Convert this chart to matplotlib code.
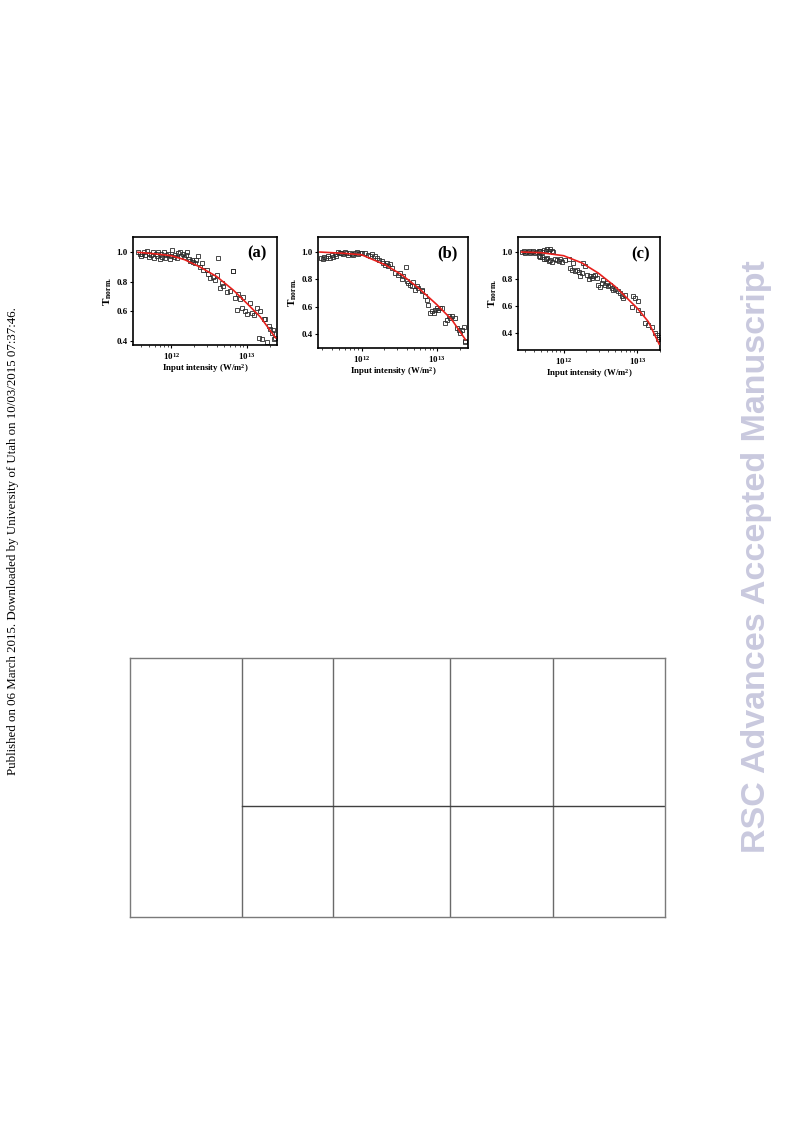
import matplotlib
matplotlib.use('Agg')
import matplotlib.pyplot as plt
import numpy as np

plt.rcParams['font.family'] = ['Liberation Serif', 'DejaVu Serif']
plt.rcParams['font.weight'] = 'bold'
plt.rcParams['mathtext.fontset'] = 'custom'
plt.rcParams['mathtext.rm'] = 'Liberation Serif:bold'
plt.rcParams['mathtext.bf'] = 'Liberation Serif:bold'
plt.rcParams['mathtext.it'] = 'Liberation Serif:bold'

# intensities in units of 1e12 W/m^2
a_x = [0.36, 0.38, 0.39, 0.41, 0.43, 0.45, 0.48, 0.50, 0.51, 0.54, 0.57, 0.59, 0.62, 0.64,
       0.67, 0.70, 0.73, 0.76, 0.79, 0.82, 0.86, 0.90, 0.95, 0.99, 1.03, 1.07, 1.12, 1.17,
       1.23, 1.29, 1.36, 1.43, 1.49, 1.55, 1.62, 1.69, 1.75, 1.85, 1.94, 2.05, 2.15, 2.27,
       2.39, 2.51, 2.64, 2.93, 3.08, 3.24, 3.59, 3.78, 3.98, 4.19, 4.41, 4.64, 4.89, 5.41,
       6.0, 6.5, 6.64, 6.99, 7.36, 7.74, 8.15, 8.58, 9.03, 9.5, 10.0, 10.9, 11.7, 12.3,
       13.6, 14.3, 15.1, 15.8, 16.7, 17.5, 18.5, 19.5, 20.5, 21.5, 22.2, 22.7, 23.9]
a_y = [1.005, 0.99, 0.975, 0.99, 1.0, 0.98, 1.01, 0.965, 0.99, 0.985, 1.0, 0.96, 0.99, 0.975,
       1.005, 0.955, 0.99, 0.97, 1.0, 0.96, 0.98, 0.99, 0.955, 0.975, 1.015, 0.97, 0.985, 0.96,
       0.995, 1.0, 0.975, 0.99, 0.965, 0.985, 1.0, 0.955, 0.94, 0.945, 0.935, 0.925, 0.95, 0.975,
       0.9, 0.925, 0.88, 0.88, 0.855, 0.825, 0.835, 0.815, 0.845, 0.96, 0.76, 0.79, 0.77, 0.73,
       0.735, 0.87, 0.87, 0.69, 0.61, 0.72, 0.68, 0.62, 0.70, 0.60, 0.58, 0.655, 0.585, 0.575,
       0.62, 0.42, 0.60, 0.415, 0.55, 0.55, 0.39, 0.50, 0.48, 0.455, 0.47, 0.41, 0.42]
a_fit_x = [0.36, 0.6, 1.0, 1.5, 2.4, 4.0, 6.6, 10.0, 15.0, 24.0]
a_fit_y = [1.0, 0.99, 0.977, 0.95, 0.90, 0.835, 0.744, 0.654, 0.563, 0.42]

b_x = [0.29, 0.31, 0.32, 0.34, 0.36, 0.38, 0.40, 0.42, 0.44, 0.46, 0.49, 0.51, 0.54, 0.57,
       0.60, 0.63, 0.66, 0.70, 0.74, 0.77, 0.81, 0.86, 0.90, 0.95, 1.0, 1.11, 1.23, 1.29,
       1.39, 1.51, 1.58, 1.70, 1.85, 1.94, 2.05, 2.15, 2.27, 2.39, 2.51, 2.78, 3.08, 3.24,
       3.41, 3.59, 3.86, 3.98, 4.19, 4.41, 4.64, 4.89, 5.14, 5.41, 5.70, 6.31, 6.44, 6.99,
       7.36, 7.74, 8.15, 8.58, 9.03, 9.5, 10.0, 10.5, 11.1, 11.7, 12.9, 13.6, 14.3, 15.1,
       15.8, 17.5, 18.5, 19.5, 20.5, 21.5, 22.7, 23.4, 23.9]
b_y = [0.96, 0.95, 0.965, 0.955, 0.97, 0.96, 0.975, 0.965, 0.985, 0.97, 1.0, 0.99, 0.995, 0.985,
       1.0, 0.99, 0.98, 0.995, 0.985, 0.975, 0.99, 1.0, 0.985, 0.995, 0.99, 0.99, 0.98, 0.973,
       0.983, 0.968, 0.956, 0.944, 0.932, 0.92, 0.907, 0.92, 0.895, 0.91, 0.883, 0.846, 0.834,
       0.85, 0.80, 0.822, 0.89, 0.785, 0.773, 0.761, 0.749, 0.78, 0.724, 0.749, 0.74, 0.712,
       0.724, 0.676, 0.651, 0.615, 0.553, 0.566, 0.554, 0.578, 0.59, 0.578, 0.59, 0.59, 0.48,
       0.505, 0.529, 0.517, 0.53, 0.52, 0.444, 0.432, 0.41, 0.432, 0.455, 0.345, 0.35]
b_fit_x = [0.28, 0.6, 1.0, 2.05, 3.41, 5.7, 10.0, 15.8, 23.9]
b_fit_y = [1.0, 0.99, 0.98, 0.907, 0.834, 0.737, 0.615, 0.505, 0.36]

c_x = [0.27, 0.29, 0.30, 0.32, 0.34, 0.35, 0.37, 0.39, 0.41, 0.44, 0.46, 0.48, 0.51, 0.54,
       0.57, 0.60, 0.63, 0.66, 0.70, 0.73, 0.46, 0.48, 0.51, 0.54, 0.57, 0.60, 0.63, 0.66,
       0.70, 0.77, 0.81, 0.86, 0.90, 0.95, 1.05, 1.17, 1.23, 1.30, 1.36, 1.44, 1.51, 1.60,
       1.68, 1.77, 1.86, 1.96, 2.07, 2.18, 2.29, 2.42, 2.54, 2.68, 2.82, 2.97, 3.13, 3.30,
       3.47, 3.66, 3.85, 4.06, 4.27, 4.50, 4.74, 4.99, 5.54, 5.83, 6.14, 6.47, 6.81, 8.38,
       8.83, 9.30, 10.1, 10.3, 11.5, 12.7, 14.1, 15.6, 17.3, 18.2, 19.2, 19.8]
c_y = [1.0, 1.005, 0.995, 1.0, 1.005, 0.995, 1.0, 1.005, 0.995, 1.0, 1.005, 1.01, 1.0, 1.015,
       1.005, 1.02, 1.01, 1.025, 1.005, 1.0, 0.97, 0.96, 0.965, 0.95, 0.945, 0.955, 0.935, 0.94,
       0.93, 0.945, 0.94, 0.935, 0.95, 0.93, 0.94, 0.945, 0.881, 0.869, 0.92, 0.857, 0.869, 0.85,
       0.82, 0.844, 0.92, 0.90, 0.832, 0.80, 0.82, 0.807, 0.82, 0.832, 0.807, 0.76, 0.74, 0.77,
       0.795, 0.758, 0.77, 0.746, 0.755, 0.733, 0.721, 0.73, 0.709, 0.70, 0.672, 0.659, 0.684,
       0.593, 0.672, 0.66, 0.635, 0.57, 0.548, 0.474, 0.462, 0.449, 0.40, 0.388, 0.36, 0.375]
c_fit_x = [0.27, 0.5, 1.0, 1.77, 2.95, 5.0, 10.0, 14.1, 19.8]
c_fit_y = [1.0, 0.995, 0.973, 0.92, 0.845, 0.746, 0.585, 0.486, 0.32]

panels = [
    ('(a)', a_x, a_y, a_fit_x, a_fit_y, [133, 237, 277, 345], (0.31, 25.1), (0.371, 1.104)),
    ('(b)', b_x, b_y, b_fit_x, b_fit_y, [318, 237, 468, 348], (0.264, 25.9), (0.298, 1.11)),
    ('(c)', c_x, c_y, c_fit_x, c_fit_y, [518, 237, 660, 350], (0.241, 20.3), (0.277, 1.111)),
]

W, H = 793, 1121
fig = plt.figure(figsize=(W / 100, H / 100), dpi=100)

for label, xs, ys, fx, fy, box, xl, yl in panels:
    l, t, r, b = box
    ax = fig.add_axes([l / W, 1 - b / H, (r - l) / W, (b - t) / H])
    ax.plot(np.array(fx) * 1e12, fy, '-', color='#e8201c', lw=1.2, zorder=3)
    ax.plot(np.array(xs) * 1e12, ys, 's', mfc='none', mec='#2a2a2a', ms=3.2, mew=0.6, zorder=2)
    ax.set_xscale('log')
    ax.set_xlim(xl[0] * 1e12, xl[1] * 1e12)
    ax.set_ylim(*yl)
    ax.set_yticks([0.4, 0.6, 0.8, 1.0])
    ax.set_yticklabels(['0.4', '0.6', '0.8', '1.0'])
    ax.set_xticks([1e12, 1e13])
    ax.set_xticklabels(['10$^{12}$', '10$^{13}$'])
    ax.tick_params(labelsize=6.5, length=2.5, width=0.8, pad=1.5)
    ax.tick_params(which='minor', length=1.5, width=0.5)
    for s in ax.spines.values():
        s.set_linewidth(1.2)
    ax.set_xlabel('Input intensity (W/m$^2$)', fontsize=6.3, fontweight='bold', labelpad=0.5)
    ax.set_ylabel('T$_{\\mathrm{norm.}}$', fontsize=8, fontweight='bold', labelpad=1.5)
    ax.text(0.86, 0.85, label, transform=ax.transAxes, ha='center', va='center',
            fontsize=12, fontweight='bold')

# empty table
tab_cols = [130, 242, 333, 450, 553, 665]
tab_rows = [658, 806, 917]
tax = fig.add_axes([tab_cols[0] / W, 1 - tab_rows[-1] / H,
                    (tab_cols[-1] - tab_cols[0]) / W, (tab_rows[-1] - tab_rows[0]) / H])
tax.set_xlim(tab_cols[0], tab_cols[-1])
tax.set_ylim(tab_rows[-1], tab_rows[0])
tax.set_xticks([])
tax.set_yticks([])
for s in tax.spines.values():
    s.set_color('#7a7a7a')
    s.set_linewidth(1.0)
for c in tab_cols[1:-1]:
    tax.axvline(c, color='#6a6a6a', lw=1.0)
tax.plot([tab_cols[1], tab_cols[-1]], [tab_rows[1], tab_rows[1]], color='#404040', lw=1.0)

fig.text(13 / W, 1 - 541 / H,
         'Published on 06 March 2015. Downloaded by University of Utah on 10/03/2015 07:37:46.',
         rotation=90, ha='center', va='center', fontsize=9.3, fontweight='normal',
         family=['Liberation Serif'])
fig.text(757 / W, 1 - 557 / H, 'RSC Advances Accepted Manuscript',
         rotation=90, ha='center', va='center', fontsize=24.5, fontweight='bold',
         color='#c9c9de', family=['Liberation Sans'])

fig.savefig('out.png', dpi=100)
